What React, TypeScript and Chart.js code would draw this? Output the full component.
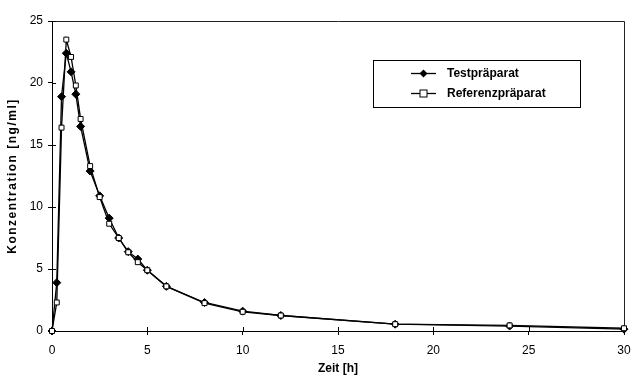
import React, { useEffect, useRef } from "react";
import { Chart, registerables } from "chart.js";
Chart.register(...registerables);

const hours = [0, 0.25, 0.5, 0.75, 1, 1.25, 1.5, 2, 2.5, 3, 3.5, 4, 4.5, 5, 6, 8, 10, 12, 18, 24, 30];
const testValues = [0, 3.9, 18.9, 22.4, 20.9, 19.1, 16.5, 12.9, 10.9, 9.1, 7.5, 6.4, 5.8, 4.9, 3.6, 2.3, 1.6, 1.25, 0.55, 0.4, 0.15];
const refValues = [0, 2.3, 16.4, 23.5, 22.1, 19.8, 17.1, 13.3, 10.8, 8.65, 7.5, 6.35, 5.55, 4.9, 3.6, 2.25, 1.55, 1.25, 0.55, 0.45, 0.22];
const seriesLabels = ["Testpräparat", "Referenzpräparat"];
const xTitle = "Zeit [h]";
const yTitle = "Konzentration [ng/ml]";
const xRange = [0, 30];
const yRange = [0, 25];
const tickStep = 5;

const FONT = "'Liberation Sans', Arial, sans-serif";

const framePlugin = {
  id: "frame",
  beforeDatasetsDraw(chart: any) {
    const { ctx, chartArea } = chart;
    const { left, right, top, bottom } = chartArea;
    ctx.save();
    ctx.strokeStyle = "#222";
    ctx.lineWidth = 1;
    ctx.beginPath();
    ctx.moveTo(Math.round(left) + 0.5, Math.round(top) + 0.5);
    ctx.lineTo(Math.round(right) + 0.5, Math.round(top) + 0.5);
    ctx.lineTo(Math.round(right) + 0.5, Math.round(bottom) + 0.5);
    ctx.stroke();
    ctx.strokeStyle = "#000";
    const xs = chart.scales.x;
    const ys = chart.scales.y;
    ctx.beginPath();
    xs.ticks.forEach((t: any) => {
      const px = Math.round(xs.getPixelForValue(t.value)) + 0.5;
      ctx.moveTo(px, bottom);
      ctx.lineTo(px, bottom - 4);
    });
    ys.ticks.forEach((t: any) => {
      const py = Math.round(ys.getPixelForValue(t.value)) + 0.5;
      ctx.moveTo(left, py);
      ctx.lineTo(left + 4, py);
    });
    ctx.stroke();
    ctx.restore();
  },
  afterDraw(chart: any) {
    const { ctx, chartArea } = chart;
    ctx.save();
    ctx.fillStyle = "#000";
    ctx.font = `bold 12px ${FONT}`;
    (ctx as any).letterSpacing = "1.5px";
    ctx.textAlign = "center";
    ctx.textBaseline = "middle";
    ctx.translate(13, (chartArea.top + chartArea.bottom) / 2);
    ctx.rotate(-Math.PI / 2);
    ctx.fillText(yTitle, 0, 0);
    ctx.restore();

    ctx.save();
    const bx = 373.5, by = 60.5, bw = 207, bh = 47;
    ctx.fillStyle = "#fff";
    ctx.fillRect(bx, by, bw, bh);
    ctx.strokeStyle = "#000";
    ctx.lineWidth = 1;
    ctx.strokeRect(bx, by, bw, bh);
    const rows = [73.5, 93.5];
    chart.data.datasets.forEach((ds: any) => {
      const y = rows[ds.legendRow];
      ctx.strokeStyle = "#000";
      ctx.lineWidth = 1.3;
      ctx.beginPath();
      ctx.moveTo(411, y);
      ctx.lineTo(436, y);
      ctx.stroke();
      const cx = 423.5;
      ctx.lineWidth = 1;
      if (ds.pointStyle === "rectRot") {
        ctx.fillStyle = "#000";
        ctx.beginPath();
        ctx.moveTo(cx, y - 4);
        ctx.lineTo(cx + 4, y);
        ctx.lineTo(cx, y + 4);
        ctx.lineTo(cx - 4, y);
        ctx.closePath();
        ctx.fill();
      } else {
        ctx.fillStyle = "#fff";
        ctx.fillRect(cx - 3.5, y - 3.5, 7, 7);
        ctx.strokeRect(cx - 3.5, y - 3.5, 7, 7);
      }
      ctx.fillStyle = "#000";
      ctx.font = `bold 12px ${FONT}`;
      ctx.textBaseline = "middle";
      ctx.textAlign = "left";
      ctx.fillText(ds.label, 447, y);
    });
    ctx.restore();
  },
};

export default function App() {
  const ref = useRef<HTMLCanvasElement | null>(null);
  useEffect(() => {
    document.body.style.margin = "0";
    const canvas = ref.current;
    if (!canvas) return;
    const chart = new Chart(canvas, {
      type: "line",
      data: {
        datasets: [
          {
            label: seriesLabels[0],
            legendRow: 0,
            data: hours.map((h, i) => ({ x: h, y: testValues[i] })),
            borderColor: "#000",
            borderWidth: 1.3,
            backgroundColor: "#000",
            pointStyle: "rectRot",
            pointRadius: 4,
            pointBorderWidth: 1,
            pointBackgroundColor: "#000",
            pointBorderColor: "#000",
            order: 1,
            clip: false,
            tension: 0,
          } as any,
          {
            label: seriesLabels[1],
            legendRow: 1,
            data: hours.map((h, i) => ({ x: h, y: refValues[i] })),
            borderColor: "#000",
            borderWidth: 1.3,
            backgroundColor: "#fff",
            pointStyle: "rect",
            pointRadius: 3.5,
            pointBorderWidth: 1,
            pointBackgroundColor: "#fff",
            pointBorderColor: "#000",
            order: 0,
            clip: false,
            tension: 0,
          } as any,
        ],
      },
      options: {
        responsive: false,
        animation: false,
        layout: { padding: { top: 21, right: 8, left: 0, bottom: 0 } },
        plugins: { legend: { display: false }, tooltip: { enabled: false }, title: { display: false } },
        scales: {
          x: {
            type: "linear",
            min: xRange[0],
            max: xRange[1],
            afterFit(s: any) { s.height = 52; s.paddingLeft = 0; s.paddingRight = 0; },
            grid: { display: true, drawOnChartArea: false, drawTicks: true, tickLength: 4, color: "#000" },
            border: { display: true, color: "#000", width: 1 },
            ticks: { stepSize: tickStep, color: "#000", padding: 8, font: { family: FONT, size: 12 }, maxRotation: 0 },
            title: { display: true, text: xTitle, color: "#000", font: { family: FONT, size: 12, weight: "bold" }, padding: { top: 0, bottom: 7 } },
          },
          y: {
            type: "linear",
            min: yRange[0],
            max: yRange[1],
            afterFit(s: any) { s.width = 52; s.paddingTop = 0; s.paddingBottom = 0; },
            grid: { display: true, drawOnChartArea: false, drawTicks: true, tickLength: 4, color: "#000" },
            border: { display: true, color: "#000", width: 1 },
            ticks: { stepSize: tickStep, color: "#000", padding: 5, font: { family: FONT, size: 12 } },
            title: { display: false },
          },
        },
      } as any,
      plugins: [framePlugin],
    });
    return () => chart.destroy();
  }, []);
  return (
    <div style={{ width: 632, height: 383, background: "#fff" }}>
      <canvas ref={ref} width={632} height={383} style={{ display: "block", width: 632, height: 383 }} />
    </div>
  );
}
